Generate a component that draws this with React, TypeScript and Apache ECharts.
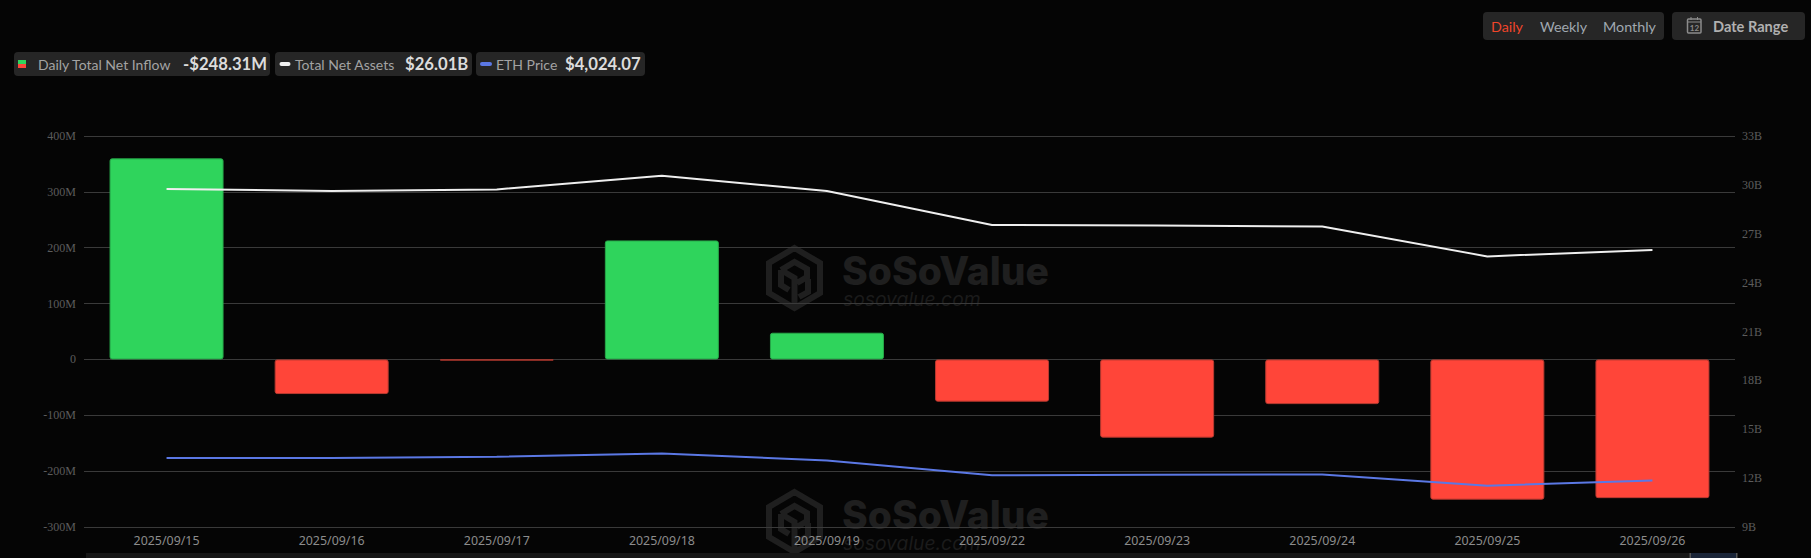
import * as echarts from "echarts";
import { useEffect, useRef } from "react";

const dates = [
  "2025/09/15", "2025/09/16", "2025/09/17", "2025/09/18", "2025/09/19",
  "2025/09/22", "2025/09/23", "2025/09/24", "2025/09/25", "2025/09/26",
];
// daily total net inflow, $M
const netInflow = [360, -62, -2, 213, 47.8, -75.6, -140, -80, -251, -248.31];
// total net assets, $B
const netAssets = [29.75, 29.62, 29.72, 30.56, 29.62, 27.54, 27.5, 27.45, 25.61, 26.01];
// ETH price, $
const ethPrice = [4517, 4517, 4546, 4618, 4464, 4138, 4150, 4156, 3907, 4024.07];

const UI_FONT = "Lato";
const GREEN = "#2fd45c";
const RED = "#ff4539";
const BLUE = "#5b78e5";
const WHITE = "#efefef";

echarts.graphic.registerShape(
  "sosoLogo",
  echarts.graphic.extendPath(
    "M27.5 2 L53 17 L53 47 L27.5 62 L2 47 L2 17 Z M14 24 L27.5 16 L40 23 L40 31 L30 37 M14 24 L27.5 32 L27.5 62 M14 24 L14 39 L22 44 M41 33 L41 46 L32 51",
    {}
  )
);

const chip = (x: number, y: number, width: number, height: number) => ({
  type: "rect",
  shape: { x, y, width, height, r: 4 },
  style: { fill: "#262626" },
});

const label = (x: number, y: number, text: string, fill: string, fontSize = 14, fontWeight = 400) => ({
  type: "text",
  x,
  y,
  style: { text, fill, fontFamily: UI_FONT, fontSize, fontWeight, textVerticalAlign: "middle" },
});

const marker = (x: number, y: number, width: number, height: number, fill: string, r = 0) => ({
  type: "rect",
  shape: { x, y, width, height, r },
  style: { fill },
});

const watermark = (dy: number) => [
  {
    type: "sosoLogo",
    x: 767,
    y: 246 + dy,
    scaleX: 1,
    scaleY: 1,
    style: { fill: "none", stroke: "#1f1f1f", lineWidth: 6 },
  },
  {
    type: "text",
    x: 842,
    y: 270 + dy,
    style: {
      text: "SoSoValue",
      fill: "#1f1f1f",
      fontFamily: "Inter",
      fontSize: 39,
      fontWeight: 800,
      textVerticalAlign: "middle",
    },
  },
  {
    type: "text",
    x: 843,
    y: 299 + dy,
    style: {
      text: "sosovalue.com",
      fill: "#1b1b1b",
      fontFamily: "Inter",
      fontSize: 19.3,
      fontStyle: "italic",
      textVerticalAlign: "middle",
    },
  },
];

const App = () => {
  const chartRef = useRef<HTMLDivElement>(null);

  useEffect(() => {
    document.body.style.margin = "0";
    document.body.style.background = "#050505";
    const chartInstance = echarts.init(chartRef.current, null, { renderer: "svg" });

    const options = {
      animation: false,
      backgroundColor: "#050505",
      grid: { left: 84, right: 76, top: 136, bottom: 31 },
      xAxis: {
        type: "category",
        data: dates,
        axisLine: { show: false },
        axisTick: { show: false },
        axisLabel: { color: "#8c8c8c", fontSize: 12.4, fontFamily: "Noto Sans", interval: 0, margin: 7 },
      },
      yAxis: [
        {
          type: "value",
          min: -300,
          max: 400,
          interval: 100,
          axisLabel: {
            color: "#5c5c5c",
            fontSize: 12,
            fontFamily: "Liberation Serif",
            margin: 8,
            padding: [0, 0, 2, 0],
            formatter: (v: number) => (v === 0 ? "0" : v + "M"),
          },
          splitLine: { lineStyle: { color: "#3a3a3a", width: 1 } },
        },
        {
          type: "value",
          position: "right",
          min: 9,
          max: 33,
          interval: 3,
          axisLabel: {
            color: "#5c5c5c",
            fontSize: 12,
            fontFamily: "Liberation Serif",
            margin: 7,
            padding: [0, 0, 2, 0],
            formatter: (v: number) => v + "B",
          },
          splitLine: { show: false },
        },
        { type: "value", show: false, min: 3000, max: 11600, splitLine: { show: false } },
      ],
      series: [
        {
          name: "Daily Total Net Inflow",
          type: "bar",
          barWidth: 114,
          yAxisIndex: 0,
          data: netInflow.map((value) => ({
            value,
            itemStyle: {
              color: value >= 0 ? GREEN : RED,
              borderColor: value >= 0 ? "#27a849" : "#b93a30",
              borderWidth: 1,
              borderRadius: 2,
            },
          })),
        },
        {
          name: "Total Net Assets",
          type: "line",
          yAxisIndex: 1,
          data: netAssets,
          showSymbol: false,
          lineStyle: { color: WHITE, width: 2 },
        },
        {
          name: "ETH Price",
          type: "line",
          yAxisIndex: 2,
          data: ethPrice,
          showSymbol: false,
          lineStyle: { color: BLUE, width: 2 },
        },
      ],
      graphic: [
        ...watermark(0),
        ...watermark(244),

        // legend chips
        chip(14, 52, 256, 24),
        marker(18, 60, 8, 4, GREEN),
        marker(18, 64, 8, 4, RED),
        label(38, 64, "Daily Total Net Inflow", "#a3a3a3"),
        label(183, 64, "-$248.31M", "#dcdcdc", 16.7, 700),
        chip(275, 52, 197, 24),
        marker(279.5, 62, 11, 4, WHITE, 2),
        label(295, 64, "Total Net Assets", "#a3a3a3"),
        label(405, 64, "$26.01B", "#dcdcdc", 16.7, 700),
        chip(476, 52, 169, 24),
        marker(480, 62, 12, 4, BLUE, 2),
        label(496, 64, "ETH Price", "#a3a3a3"),
        label(565, 64, "$4,024.07", "#dcdcdc", 16.7, 700),

        // period switch
        chip(1483, 12, 181, 28),
        label(1491, 26, "Daily", "#f0452a", 14.3),
        label(1540, 26, "Weekly", "#a0a8b0", 14.3),
        label(1603, 26, "Monthly", "#a0a8b0", 14.3),

        // date range button
        chip(1672, 12, 133, 28),
        {
          type: "rect",
          shape: { x: 1687.5, y: 19, width: 13.5, height: 14, r: 1 },
          style: { fill: "none", stroke: "#8c8c8c", lineWidth: 1.5 },
        },
        { type: "line", shape: { x1: 1687.5, y1: 22, x2: 1701, y2: 22 }, style: { stroke: "#8c8c8c", lineWidth: 1 } },
        { type: "line", shape: { x1: 1691, y1: 17, x2: 1691, y2: 20 }, style: { stroke: "#8c8c8c", lineWidth: 1 } },
        { type: "line", shape: { x1: 1697.5, y1: 17, x2: 1697.5, y2: 20 }, style: { stroke: "#8c8c8c", lineWidth: 1 } },
        {
          type: "text",
          x: 1689.8,
          y: 27.5,
          style: { text: "12", fill: "#8c8c8c", fontFamily: UI_FONT, fontSize: 8, fontWeight: 700, textVerticalAlign: "middle" },
        },
        label(1713, 26, "Date Range", "#b0b0b0", 14.6, 700),

        // range slider strip at the bottom edge
        marker(86, 553, 1651, 5, "#171717"),
        marker(1690, 553, 47, 5, "#1a2538"),
        marker(1689.5, 553, 1.5, 5, "#555555"),
        marker(1736, 553, 1.5, 5, "#555555"),
      ],
    };

    chartInstance.setOption(options);

    return () => {
      chartInstance.dispose();
    };
  }, []);

  return <div ref={chartRef} style={{ width: "1811px", height: "558px" }} />;
};

export default App;
